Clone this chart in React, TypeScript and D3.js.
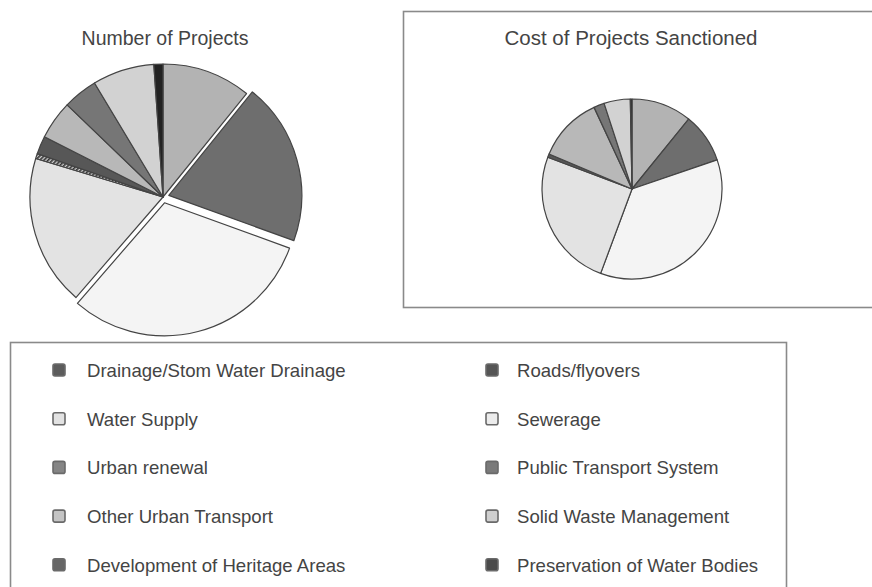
import { arc, pie } from "d3";
import type { PieArcDatum } from "d3";

const categories = [
  "Drainage/Stom Water Drainage",
  "Roads/flyovers",
  "Water Supply",
  "Sewerage",
  "Urban renewal",
  "Public Transport System",
  "Other Urban Transport",
  "Solid Waste Management",
  "Development of Heritage Areas",
  "Preservation of Water Bodies"
];

// shares in %
const projectShares = [10.8, 19.7, 30.8, 18.3, 0.6, 2.2, 4.7, 4.2, 7.5, 1.1];
const costShares = [10.8, 8.9, 35.8, 25.0, 0, 0.6, 11.7, 1.9, 4.7, 0.3];

const sliceFills = ["#b3b3b3", "#6e6e6e", "#f4f4f4", "#e3e3e3", "url(#hatch)", "#575757", "#b8b8b8", "#767676", "#d2d2d2", "#222222"];
const legendFills = ["#5c5c5c", "#555555", "#e2e2e2", "#ececec", "#858585", "#7a7a7a", "#c4c4c4", "#cfcfcf", "#666666", "#4a4a4a"];
const explodedProjects = [1, 2];

type Slice = PieArcDatum<number>;

const pieLayout = pie<number>().sort(null).startAngle(0).endAngle(Math.PI * 2);

function PieChart({ cx, cy, radius, values, exploded, offset }: { cx: number; cy: number; radius: number; values: number[]; exploded: number[]; offset: number }) {
  const slices = pieLayout(values);
  const path = arc<Slice>().innerRadius(0).outerRadius(radius);
  return (
    <g transform={`translate(${cx}, ${cy})`}>
      {slices.map((s, i) => {
        if (s.value <= 0) return null;
        const mid = (s.startAngle + s.endAngle) / 2;
        const d = exploded.includes(i) ? offset : 0;
        const dx = Math.sin(mid) * d;
        const dy = -Math.cos(mid) * d;
        return (
          <path key={i} d={path(s) ?? ""} transform={`translate(${dx}, ${dy})`} fill={sliceFills[i]} stroke="#444" strokeWidth={1.2} strokeLinejoin="round" />
        );
      })}
    </g>
  );
}

export default function App() {
  const legendRows = 5;
  const rowGap = 48.7;
  return (
    <div style={{ position: "fixed", left: 0, top: 0 }}>
      <svg width={872} height={587} style={{ display: "block", background: "#fff" }} fontFamily="'Liberation Sans', Arial, sans-serif">
        <defs>
          <pattern id="hatch" width={3} height={3} patternUnits="userSpaceOnUse" patternTransform="rotate(45)">
            <rect width={3} height={3} fill="#ccc" />
            <rect width={1.6} height={3} fill="#333" />
          </pattern>
        </defs>
        <rect width={872} height={587} fill="#fff" />

        <text x={165} y={45} textAnchor="middle" fontSize={19.5} fill="#444">Number of Projects</text>
        <PieChart cx={163} cy={197} radius={133} values={projectShares} exploded={explodedProjects} offset={6} />

        <rect x={403.5} y={11.5} width={500} height={296} fill="none" stroke="#8a8a8a" strokeWidth={1.6} />
        <text x={631} y={45} textAnchor="middle" fontSize={20.5} fill="#444">Cost of Projects Sanctioned</text>
        <PieChart cx={632} cy={189} radius={90} values={costShares} exploded={[]} offset={0} />

        <rect x={10.5} y={342.5} width={776} height={260} fill="none" stroke="#8a8a8a" strokeWidth={1.6} />
        {categories.map((name, i) => {
          const col = i % 2;
          const row = Math.floor(i / 2) % legendRows;
          const y = 370 + row * rowGap;
          const mx = col === 0 ? 59 : 492;
          const tx = col === 0 ? 87 : 517;
          return (
            <g key={name}>
              <rect x={mx - 6} y={y - 6} width={12} height={12} rx={2} fill={legendFills[i]} stroke="#6a6a6a" strokeWidth={1.6} />
              <text x={tx} y={y + 7} fontSize={18.6} fill="#444">{name}</text>
            </g>
          );
        })}
      </svg>
    </div>
  );
}
